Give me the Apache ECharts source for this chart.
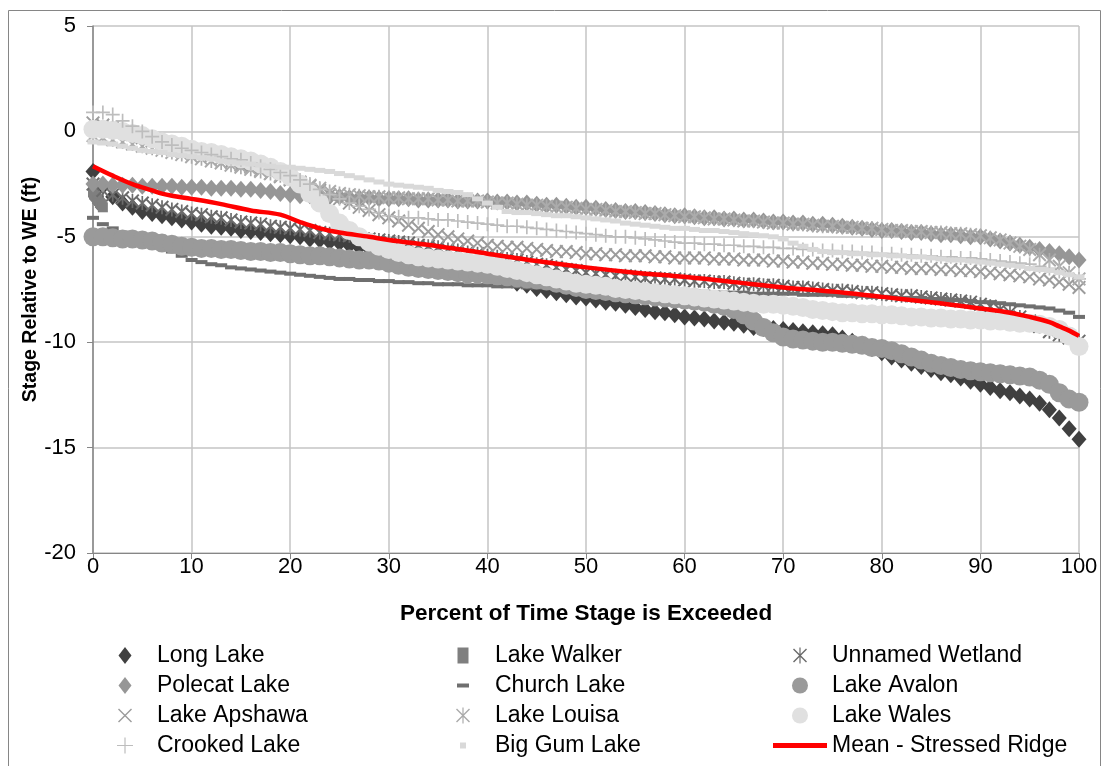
<!DOCTYPE html>
<html>
<head>
<meta charset="utf-8">
<title>Stage exceedance – Stressed Ridge lakes</title>
<script src="https://cdn.jsdelivr.net/npm/echarts@6/dist/echarts.min.js"></script>
<style>
  html, body { margin: 0; padding: 0; background: #ffffff; }
  #chart { width: 1107px; height: 766px; }
</style>
</head>
<body>
<div id="chart"></div>
<script>
// Percent of time exceeded (shared x positions for the lake records)
const pct = Array.from({ length: 101 }, (_, i) => i);

// Stage relative to WE (ft), one value per percent 0..100
const longLake = [-1.9,-2.6,-3.1,-3.4,-3.6,-3.8,-3.9,-4.0,-4.1,-4.2,
  -4.3,-4.4,-4.5,-4.55,-4.6,-4.7,-4.75,-4.8,-4.85,-4.9,
  -4.95,-5.0,-5.1,-5.15,-5.25,-5.3,-5.4,-5.5,-5.55,-5.6,
  -5.65,-5.75,-5.85,-5.95,-6.05,-6.1,-6.2,-6.35,-6.45,-6.6,
  -6.7,-6.85,-7.0,-7.2,-7.3,-7.45,-7.55,-7.65,-7.75,-7.85,
  -7.9,-8.0,-8.1,-8.15,-8.25,-8.35,-8.45,-8.55,-8.6,-8.7,
  -8.8,-8.85,-8.9,-9.0,-9.05,-9.1,-9.2,-9.3,-9.35,-9.35,
  -9.4,-9.45,-9.5,-9.55,-9.6,-9.65,-9.8,-9.95,-10.1,-10.3,
  -10.5,-10.7,-10.85,-11.0,-11.15,-11.3,-11.45,-11.55,-11.7,-11.85,
  -12.0,-12.15,-12.3,-12.4,-12.55,-12.7,-12.9,-13.2,-13.6,-14.1,
  -14.6];

const polecatLake = [-2.5,-2.5,-2.55,-2.55,-2.55,-2.6,-2.6,-2.6,-2.6,-2.65,
  -2.65,-2.65,-2.7,-2.7,-2.7,-2.75,-2.75,-2.8,-2.85,-2.95,
  -3.0,-3.05,-3.05,-3.1,-3.1,-3.1,-3.15,-3.15,-3.15,-3.2,
  -3.2,-3.2,-3.2,-3.25,-3.25,-3.25,-3.25,-3.3,-3.3,-3.3,
  -3.3,-3.35,-3.35,-3.4,-3.4,-3.45,-3.5,-3.5,-3.55,-3.6,
  -3.6,-3.65,-3.7,-3.75,-3.8,-3.8,-3.85,-3.9,-3.95,-4.0,
  -4.0,-4.05,-4.1,-4.1,-4.15,-4.15,-4.2,-4.2,-4.25,-4.3,
  -4.3,-4.35,-4.35,-4.4,-4.4,-4.45,-4.5,-4.55,-4.6,-4.65,
  -4.7,-4.7,-4.75,-4.8,-4.8,-4.85,-4.9,-4.9,-4.95,-5.0,
  -5.0,-5.1,-5.2,-5.3,-5.4,-5.5,-5.6,-5.7,-5.8,-5.95,
  -6.1];

const lakeApshawa = [0.4,0.3,0.2,0.0,-0.15,-0.3,-0.45,-0.55,-0.7,-0.8,
  -0.9,-1.05,-1.15,-1.3,-1.45,-1.6,-1.7,-1.85,-2.0,-2.15,
  -2.3,-2.45,-2.6,-2.8,-3.0,-3.2,-3.4,-3.6,-3.75,-3.95,
  -4.1,-4.25,-4.45,-4.6,-4.75,-4.9,-5.0,-5.1,-5.2,-5.3,
  -5.4,-5.45,-5.5,-5.5,-5.55,-5.6,-5.65,-5.7,-5.7,-5.75,
  -5.8,-5.8,-5.85,-5.85,-5.9,-5.9,-5.9,-5.95,-5.95,-6.0,
  -6.0,-6.0,-6.0,-6.05,-6.05,-6.05,-6.1,-6.1,-6.1,-6.15,
  -6.15,-6.2,-6.2,-6.25,-6.25,-6.3,-6.3,-6.35,-6.35,-6.4,
  -6.4,-6.45,-6.45,-6.5,-6.5,-6.5,-6.55,-6.55,-6.6,-6.6,
  -6.65,-6.7,-6.75,-6.8,-6.85,-6.9,-7.0,-7.05,-7.15,-7.25,
  -7.4];

const crookedLake = [0.9,0.9,0.8,0.5,0.25,0.0,-0.25,-0.5,-0.65,-0.8,
  -0.9,-1.0,-1.1,-1.2,-1.3,-1.35,-1.5,-1.65,-1.8,-1.95,
  -2.1,-2.3,-2.5,-2.75,-3.0,-3.2,-3.4,-3.55,-3.7,-3.85,
  -4.0,-4.05,-4.1,-4.1,-4.15,-4.2,-4.2,-4.25,-4.3,-4.35,
  -4.4,-4.45,-4.5,-4.5,-4.55,-4.6,-4.65,-4.7,-4.75,-4.8,
  -4.85,-4.9,-4.95,-5.0,-5.0,-5.05,-5.1,-5.15,-5.2,-5.25,
  -5.3,-5.3,-5.35,-5.35,-5.4,-5.4,-5.45,-5.45,-5.5,-5.5,
  -5.55,-5.55,-5.6,-5.6,-5.65,-5.65,-5.7,-5.7,-5.75,-5.75,
  -5.8,-5.8,-5.85,-5.85,-5.9,-5.9,-5.95,-5.95,-6.0,-6.0,
  -6.05,-6.1,-6.15,-6.2,-6.25,-6.3,-6.4,-6.5,-6.65,-6.8,
  -7.0];

const lakeWalkerPct = [0,0.1,0.2,0.3,0.4,0.5,0.6,0.7,0.8,0.9,1.0];
const lakeWalker = [-2.9,-3.0,-3.05,-3.1,-3.2,-3.25,-3.3,-3.4,-3.45,-3.5,-3.6];

const churchLake = [-4.1,-4.4,-4.6,-4.8,-4.95,-5.1,-5.3,-5.5,-5.7,-5.9,
  -6.1,-6.2,-6.3,-6.35,-6.45,-6.5,-6.55,-6.6,-6.65,-6.7,
  -6.75,-6.8,-6.85,-6.9,-6.95,-7.0,-7.0,-7.05,-7.05,-7.1,
  -7.1,-7.15,-7.15,-7.2,-7.2,-7.25,-7.25,-7.25,-7.3,-7.3,
  -7.3,-7.35,-7.35,-7.35,-7.4,-7.4,-7.4,-7.45,-7.45,-7.45,
  -7.5,-7.5,-7.5,-7.5,-7.55,-7.55,-7.55,-7.55,-7.6,-7.6,
  -7.6,-7.6,-7.6,-7.65,-7.65,-7.65,-7.65,-7.7,-7.7,-7.7,
  -7.7,-7.7,-7.75,-7.75,-7.75,-7.75,-7.8,-7.8,-7.8,-7.85,
  -7.85,-7.85,-7.9,-7.9,-7.9,-7.95,-7.95,-8.0,-8.0,-8.05,
  -8.1,-8.1,-8.15,-8.2,-8.25,-8.3,-8.35,-8.4,-8.5,-8.6,
  -8.8];

const lakeLouisa = [-0.2,-0.3,-0.4,-0.5,-0.6,-0.7,-0.8,-0.9,-1.0,-1.1,
  -1.2,-1.3,-1.4,-1.5,-1.6,-1.7,-1.8,-1.9,-2.0,-2.1,
  -2.25,-2.4,-2.55,-2.7,-2.85,-2.95,-3.0,-3.05,-3.1,-3.1,
  -3.15,-3.15,-3.2,-3.2,-3.2,-3.25,-3.25,-3.3,-3.3,-3.3,
  -3.35,-3.4,-3.4,-3.45,-3.5,-3.5,-3.55,-3.6,-3.6,-3.65,
  -3.7,-3.7,-3.75,-3.8,-3.8,-3.85,-3.9,-3.9,-3.95,-4.0,
  -4.05,-4.05,-4.1,-4.15,-4.15,-4.2,-4.25,-4.25,-4.3,-4.35,
  -4.35,-4.4,-4.4,-4.45,-4.5,-4.5,-4.55,-4.55,-4.6,-4.6,
  -4.65,-4.7,-4.7,-4.75,-4.75,-4.8,-4.8,-4.85,-4.85,-4.9,
  -4.95,-5.05,-5.15,-5.3,-5.45,-5.6,-5.85,-6.1,-6.4,-6.7,
  -7.0];

const bigGumLake = [-0.5,-0.55,-0.6,-0.7,-0.8,-0.9,-0.95,-1.0,-1.1,-1.15,
  -1.2,-1.25,-1.3,-1.4,-1.45,-1.5,-1.55,-1.6,-1.65,-1.7,
  -1.7,-1.75,-1.8,-1.85,-1.9,-2.0,-2.1,-2.2,-2.3,-2.4,
  -2.5,-2.55,-2.6,-2.65,-2.7,-2.8,-2.85,-2.9,-3.0,-3.2,
  -3.4,-3.6,-3.8,-3.85,-3.85,-3.9,-3.95,-4.0,-4.0,-4.05,
  -4.1,-4.15,-4.2,-4.25,-4.35,-4.4,-4.45,-4.5,-4.55,-4.6,
  -4.6,-4.65,-4.7,-4.7,-4.75,-4.8,-4.85,-4.9,-4.95,-5.0,
  -5.1,-5.3,-5.45,-5.6,-5.7,-5.75,-5.75,-5.8,-5.8,-5.85,
  -5.85,-5.9,-5.9,-5.95,-5.95,-6.0,-6.05,-6.1,-6.1,-6.15,
  -6.2,-6.25,-6.3,-6.35,-6.4,-6.5,-6.55,-6.6,-6.7,-6.8,
  -6.9];

const unnamedWetland = [-2.5,-2.8,-3.0,-3.15,-3.3,-3.4,-3.5,-3.6,-3.7,-3.8,
  -3.9,-3.95,-4.05,-4.1,-4.2,-4.3,-4.35,-4.4,-4.5,-4.55,
  -4.6,-4.65,-4.7,-4.8,-4.85,-4.9,-4.95,-5.0,-5.1,-5.15,
  -5.2,-5.25,-5.3,-5.4,-5.45,-5.5,-5.6,-5.65,-5.75,-5.8,
  -5.9,-5.95,-6.05,-6.1,-6.2,-6.3,-6.35,-6.45,-6.55,-6.6,
  -6.7,-6.75,-6.8,-6.85,-6.85,-6.9,-6.95,-6.95,-7.0,-7.0,
  -7.05,-7.1,-7.1,-7.15,-7.15,-7.2,-7.25,-7.25,-7.3,-7.3,
  -7.35,-7.4,-7.4,-7.45,-7.5,-7.55,-7.55,-7.6,-7.65,-7.65,
  -7.7,-7.75,-7.8,-7.8,-7.85,-7.9,-7.95,-8.0,-8.05,-8.1,
  -8.2,-8.3,-8.45,-8.6,-8.8,-9.0,-9.25,-9.5,-9.65,-9.8,
  -9.95];

const lakeAvalon = [-5.0,-5.0,-5.05,-5.1,-5.1,-5.15,-5.2,-5.3,-5.35,-5.45,
  -5.5,-5.55,-5.55,-5.6,-5.6,-5.65,-5.7,-5.7,-5.75,-5.75,
  -5.8,-5.85,-5.9,-5.9,-5.95,-6.0,-6.05,-6.1,-6.1,-6.15,
  -6.25,-6.35,-6.45,-6.5,-6.55,-6.6,-6.65,-6.7,-6.75,-6.75,
  -6.8,-6.85,-6.9,-6.95,-7.0,-7.05,-7.1,-7.2,-7.3,-7.4,
  -7.5,-7.55,-7.6,-7.65,-7.7,-7.75,-7.8,-7.85,-7.9,-7.95,
  -8.0,-8.05,-8.1,-8.2,-8.3,-8.45,-8.7,-9.0,-9.3,-9.55,
  -9.75,-9.85,-9.9,-9.95,-10.0,-10.0,-10.05,-10.1,-10.15,-10.25,
  -10.3,-10.4,-10.55,-10.7,-10.85,-11.0,-11.1,-11.2,-11.3,-11.35,
  -11.4,-11.45,-11.5,-11.55,-11.6,-11.65,-11.8,-12.0,-12.4,-12.7,
  -12.85];

const lakeWales = [0.1,0.1,0.05,0.0,-0.1,-0.2,-0.35,-0.5,-0.6,-0.7,
  -0.85,-0.95,-1.0,-1.1,-1.2,-1.3,-1.4,-1.55,-1.7,-1.9,
  -2.15,-2.5,-2.95,-3.4,-3.9,-4.35,-4.7,-5.0,-5.25,-5.45,
  -5.6,-5.75,-5.85,-5.95,-6.0,-6.05,-6.1,-6.15,-6.2,-6.25,
  -6.3,-6.4,-6.5,-6.6,-6.7,-6.8,-6.9,-7.0,-7.1,-7.2,
  -7.25,-7.3,-7.35,-7.45,-7.5,-7.55,-7.6,-7.65,-7.7,-7.75,
  -7.8,-7.85,-7.9,-7.95,-8.0,-8.05,-8.1,-8.15,-8.2,-8.2,
  -8.25,-8.3,-8.35,-8.45,-8.5,-8.55,-8.6,-8.6,-8.65,-8.65,
  -8.7,-8.7,-8.75,-8.8,-8.8,-8.85,-8.85,-8.9,-8.9,-8.95,
  -8.95,-9.0,-9.0,-9.05,-9.1,-9.1,-9.15,-9.25,-9.4,-9.7,
  -10.2];

// Mean of the stressed-ridge lakes (drawn as a smoothed line)
const meanPct = [0,2,4,6,7,8,10,13,16,19,21,23,25,28,30,35,40,45,50,55,60,65,70,75,80,85,90,93,95,97,98,99,100];
const meanStressed = [-1.65,-2.1,-2.5,-2.8,-2.95,-3.05,-3.2,-3.45,-3.75,-3.95,-4.3,-4.6,-4.8,-5.0,-5.15,-5.45,-5.8,-6.15,-6.45,-6.7,-6.9,-7.15,-7.4,-7.6,-7.85,-8.1,-8.4,-8.6,-8.8,-9.05,-9.25,-9.45,-9.7];

// Axis ticks
const xTicks = { min: 0, max: 100, step: 10 };
const yTicks = { min: -20, max: 5, step: 5 };

// Marker shapes (filled outlines, so thin strokes are drawn as slim bars)
const SYM_X = 'path://M0,1L1,0L10,9L9,10Z M9,0L10,1L1,10L0,9Z';
const SYM_PLUS = 'path://M4.4,0H5.6V4.4H10V5.6H5.6V10H4.4V5.6H0V4.4H4.4Z';
const SYM_STAR = 'path://M0,1L1,0L10,9L9,10Z M9,0L10,1L1,10L0,9Z M4.4,0H5.6V10H4.4Z';

// Legend glyphs padded to an 18x18 box so they keep their own size
const LEG_DIAMOND = 'path://M0,0M18,18M9,0.5L15.5,9L9,17.5L2.5,9Z';
const LEG_SQUARE = 'path://M0,0M18,18M3.5,1H14.5V17H3.5Z';
const LEG_DASH = 'path://M0,0M18,18M3,7H15V11H3Z';
const LEG_SMALL = 'path://M0,0M18,18M6,6H12V12H6Z';
const LEG_CIRCLE = 'path://M0,0M18,18M9,1A8,8 0 1,1 8.99,1Z';
const LEG_X = 'path://M0,0M18,18M2,3L3,2L16,15L15,16Z M15,2L16,3L3,16L2,15Z';
const LEG_PLUS = 'path://M0,0M18,18M8.4,1H9.6V8.4H17V9.6H9.6V17H8.4V9.6H1V8.4H8.4Z';
const LEG_STAR = 'path://M0,0M18,18M2,3L3,2L16,15L15,16Z M15,2L16,3L3,16L2,15Z M8.4,1H9.6V17H8.4Z';
const LEG_LINE = 'path://M0,0M54,18M0,6.5H54V11.5H0Z';

const FONT = "'Liberation Sans', Arial, sans-serif";

function pairs(xs, ys) { return ys.map((v, i) => [xs[i], v]); }

function lake(name, xs, ys, symbol, size, color) {
  return {
    name, type: 'scatter', data: pairs(xs, ys),
    symbol, symbolSize: size,
    itemStyle: { color, opacity: 1 },
    emphasis: { disabled: true },
    animation: false
  };
}

const series = [
  lake('Long Lake', pct, longLake, 'diamond', [15, 17], '#404040'),
  lake('Lake Walker', lakeWalkerPct, lakeWalker, 'rect', [10, 10], '#7f7f7f'),
  lake('Unnamed Wetland', pct, unnamedWetland, SYM_STAR, 14, '#6b6b6b'),
  lake('Polecat Lake', pct, polecatLake, 'diamond', [15, 17], '#969696'),
  lake('Church Lake', pct, churchLake, 'rect', [12, 4], '#6f6f6f'),
  lake('Lake Avalon', pct, lakeAvalon, 'circle', 19, '#9a9a9a'),
  lake('Lake Apshawa', pct, lakeApshawa, SYM_X, 14, '#9c9c9c'),
  lake('Lake Louisa', pct, lakeLouisa, SYM_STAR, 14, '#ababab'),
  lake('Lake Wales', pct, lakeWales, 'circle', 19, '#e0e0e0'),
  lake('Crooked Lake', pct, crookedLake, SYM_PLUS, 14, '#bdbdbd'),
  lake('Big Gum Lake', pct, bigGumLake, 'rect', [11, 5], '#d9d9d9'),
  {
    name: 'Mean - Stressed Ridge', type: 'line', data: pairs(meanPct, meanStressed),
    smooth: 0.35, symbol: 'none', showSymbol: false,
    lineStyle: { color: '#ff0000', width: 4.5 },
    itemStyle: { color: '#ff0000' },
    emphasis: { disabled: true },
    z: 3, animation: false
  }
];

// The legend box is aligned on its visible glyphs, which start 18px into each 54px icon slot
function legendCol(left, items) {
  return {
    orient: 'vertical', left, top: 644, height: 140, padding: 0,
    itemWidth: 54, itemHeight: 18, itemGap: 7,
    symbolKeepAspect: true,
    selectedMode: false,
    textStyle: { fontFamily: FONT, fontSize: 23, color: '#000' },
    data: items
  };
}

const option = {
  backgroundColor: '#ffffff',
  animation: false,
  grid: { left: 93, right: 28, top: 26, bottom: 213, containLabel: false },
  xAxis: {
    type: 'value', min: xTicks.min, max: xTicks.max, interval: xTicks.step,
    name: 'Percent of Time Stage is Exceeded',
    nameLocation: 'middle', nameGap: 49, nameMoveOverlap: false,
    nameTextStyle: { fontFamily: FONT, fontSize: 22.5, fontWeight: 'bold', color: '#000' },
    axisLine: { show: true, onZero: false, lineStyle: { color: '#868686', width: 1 } },
    axisTick: { show: true, length: 6, lineStyle: { color: '#868686' } },
    axisLabel: { margin: 3, fontFamily: FONT, fontSize: 22, color: '#000' },
    splitLine: { show: true, lineStyle: { color: '#c4c4c4', width: 1.5 } }
  },
  yAxis: {
    type: 'value', min: yTicks.min, max: yTicks.max, interval: yTicks.step,
    name: 'Stage Relative to WE (ft)',
    nameLocation: 'middle', nameGap: 52, nameRotate: 90, nameMoveOverlap: false,
    nameTextStyle: { fontFamily: FONT, fontSize: 19.5, fontWeight: 'bold', color: '#000' },
    axisLine: { show: true, onZero: false, lineStyle: { color: '#868686', width: 1.5 } },
    axisTick: { show: true, length: 6, lineStyle: { color: '#868686' } },
    axisLabel: { margin: 17, fontFamily: FONT, fontSize: 22, color: '#000' },
    splitLine: { show: true, lineStyle: { color: '#c4c4c4', width: 1.5 } }
  },
  legend: [
    legendCol(116, [
      { name: 'Long Lake', icon: LEG_DIAMOND },
      { name: 'Polecat Lake', icon: LEG_DIAMOND },
      { name: 'Lake Apshawa', icon: LEG_X },
      { name: 'Crooked Lake', icon: LEG_PLUS }
    ]),
    legendCol(454, [
      { name: 'Lake Walker', icon: LEG_SQUARE },
      { name: 'Church Lake', icon: LEG_DASH },
      { name: 'Lake Louisa', icon: LEG_STAR },
      { name: 'Big Gum Lake', icon: LEG_SMALL }
    ]),
    legendCol(773, [
      { name: 'Unnamed Wetland', icon: LEG_STAR },
      { name: 'Lake Avalon', icon: LEG_CIRCLE },
      { name: 'Lake Wales', icon: LEG_CIRCLE },
      { name: 'Mean - Stressed Ridge', icon: LEG_LINE }
    ])
  ],
  graphic: [{
    type: 'rect', silent: true, z: -10,
    shape: { x: 8.5, y: 10.5, width: 1092, height: 780 },
    style: { fill: 'none', stroke: '#868686', lineWidth: 1 }
  }],
  series
};

const chart = echarts.init(document.getElementById('chart'), null, { renderer: 'canvas' });
chart.setOption(option);
</script>
</body>
</html>
